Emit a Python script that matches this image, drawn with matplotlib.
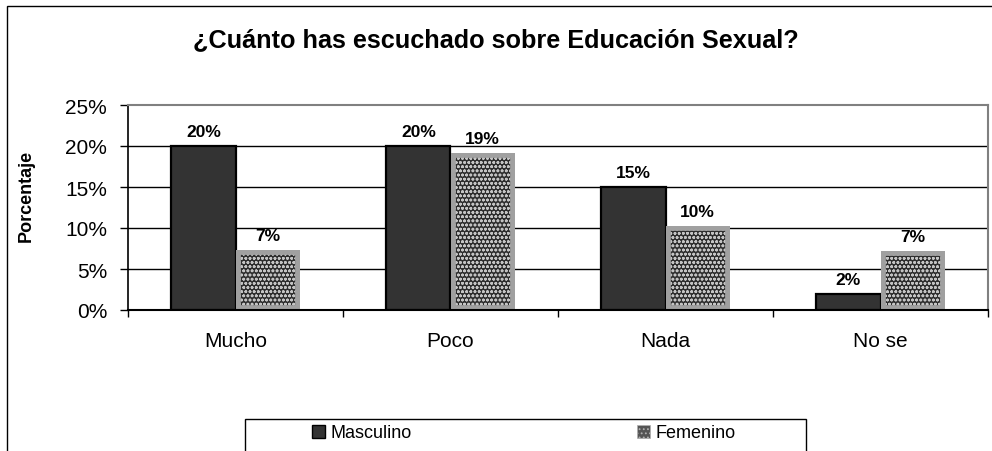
import matplotlib
matplotlib.use("Agg")
import matplotlib.pyplot as plt
from matplotlib.patches import Rectangle, Patch
import numpy as np

plt.rcParams['font.family'] = ['Liberation Sans', 'DejaVu Sans']
plt.rcParams['hatch.linewidth'] = 0.8

categories = ["Mucho", "Poco", "Nada", "No se"]
masculino = [20, 20, 15, 2]
femenino = [7.3, 19.1, 10.2, 7.2]
series_names = ["Masculino", "Femenino"]
yticks = [0, 5, 10, 15, 20, 25]
ytick_labels = ["0%", "5%", "10%", "15%", "20%", "25%"]
title = "¿Cuánto has escuchado sobre Educación Sexual?"
ylabel = "Porcentaje"

W, H = 992, 452
fig = plt.figure(figsize=(W / 100, H / 100), dpi=100)
fig.patch.set_facecolor("white")

# outer chart frame (right/bottom edges cropped in reference)
fig.patches.append(Rectangle((6.5 / W, -0.5), 2.0, 1.5 - 6.5 / H, transform=fig.transFigure,
                             fill=False, edgecolor="black", linewidth=1.0, zorder=0))

ax = fig.add_axes([128 / W, 1 - 311 / H, (988 - 128) / W, (311 - 106) / H])

x = np.arange(len(categories))
bw = 0.298

b1 = ax.bar(x - bw / 2, masculino, width=bw, color="#333333", edgecolor="black",
            linewidth=1.6, zorder=3, label=series_names[0])
b2 = ax.bar(x + bw / 2, femenino, width=bw, color="#2e2e2e", edgecolor="#c4c4c4",
            linewidth=0, hatch="oooo", zorder=3, label=series_names[1])
for r in b2:
    outline = Rectangle(r.get_xy(), r.get_width(), r.get_height(), fill=False,
                        edgecolor="#a0a0a0", linewidth=7, zorder=4)
    ax.add_patch(outline)
    outline.set_clip_path(r)

ax.bar_label(b1, labels=[f"{v:.0f}%" for v in masculino], padding=5,
             fontsize=12.5, fontweight="bold")
ax.bar_label(b2, labels=[f"{v:.0f}%" for v in femenino], padding=5,
             fontsize=12.5, fontweight="bold")

ax.set_xlim(-0.5, len(categories) - 0.5)
ax.set_ylim(0, 25)
ax.set_yticks(yticks)
ax.set_yticklabels(ytick_labels, fontsize=15)
ax.set_xticks(x)
ax.set_xticklabels(categories, fontsize=15)
ax.set_xticks(np.arange(len(categories) + 1) - 0.5, minor=True)
ax.tick_params(axis="x", which="major", length=0, pad=15)
ax.tick_params(axis="x", which="minor", length=5, width=1, direction="out")
ax.tick_params(axis="y", which="major", length=6, width=1, direction="out", pad=9)

for yv in yticks[1:-1]:
    ax.axhline(yv, color="black", linewidth=1.0, zorder=1)

ax.spines["left"].set_color("black")
ax.spines["bottom"].set_color("black")
ax.spines["left"].set_linewidth(1.2)
ax.spines["bottom"].set_linewidth(1.5)
ax.spines["top"].set_color("#808080")
ax.spines["right"].set_color("#808080")
ax.spines["top"].set_linewidth(1.5)
ax.spines["right"].set_linewidth(1.5)
ax.spines["bottom"].set_zorder(5)

fig.text(0.5, 1 - 40 / H, title, ha="center", va="center", fontsize=18.2, fontweight="bold")
fig.text(26 / W, 1 - 196 / H, ylabel, ha="center", va="center", rotation=90,
         fontsize=13, fontweight="bold")

# legend box
fig.patches.append(Rectangle((245 / W, -0.5), (806 - 245) / W, 0.5 + 1 - 420 / H,
                             transform=fig.transFigure, fill=False, edgecolor="black",
                             linewidth=1.0))
handles = [Patch(facecolor="#333333", edgecolor="black", linewidth=1.0),
           Patch(facecolor="#555555", edgecolor="#b0b0b0", hatch="....", linewidth=0.5)]
fig.legend(handles, series_names, loc="center", bbox_to_anchor=(524 / W, 1 - 434 / H),
           ncol=2, frameon=False, fontsize=13, handlelength=0.7, handleheight=0.7,
           handletextpad=0.3, columnspacing=12.5, borderpad=0)

fig.savefig("out.png", dpi=100)
